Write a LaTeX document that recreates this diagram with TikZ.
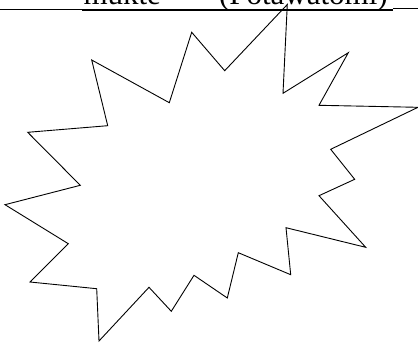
\documentclass[tikz,border=0pt]{standalone}
\usepackage{fontspec}
\setmainfont{Liberation Serif}
\begin{document}
\begin{tikzpicture}[x=1pt,y=-1pt,
  burst/.style={draw=black,line width=0.9pt,line join=miter},
  thinrule/.style={draw=black,line width=0.9pt},
  thickrule/.style={draw=black,line width=1.8pt},
  lbl/.style={inner sep=0pt,outer sep=0pt,anchor=base west,font=\fontsize{31}{36}\selectfont}]
\useasboundingbox (0,0) rectangle (418,345);
\begin{scope}
\clip (0,0) rectangle (418,345);
\node[lbl] (mukte) at (83.5,5) {mukte};
\node[lbl] (pota) at (219,5) {(Potawatomi)};
\draw[thinrule] (0,9.2) -- (82,9.2);
\draw[thickrule] (82,10.2) -- (393,10.2);
\draw[thinrule] (393,8.2) -- (418,8.2);
\draw[burst] (191.7,32.3) -- (169.3,102.7) -- (91.7,60) -- (107.7,125.7)
  -- (27.7,132.3) -- (80.3,185.3) -- (5,204.7) -- (68.3,243.7)
  -- (30,282) -- (96.7,288.7) -- (99,341) -- (149,287.3)
  -- (171.3,311.3) -- (194,275.3) -- (227.3,298) -- (238.3,252.7)
  -- (290.7,274.7) -- (286,227.7) -- (365.7,247.3) -- (319,195.7)
  -- (354.7,179.3) -- (330.7,149.3) -- (418,107.3) -- (319,105.3)
  -- (348.3,52.7) -- (283,93.3) -- (287.3,4.5) -- (224.7,70.7) -- cycle;
\end{scope}
\end{tikzpicture}
\end{document}
